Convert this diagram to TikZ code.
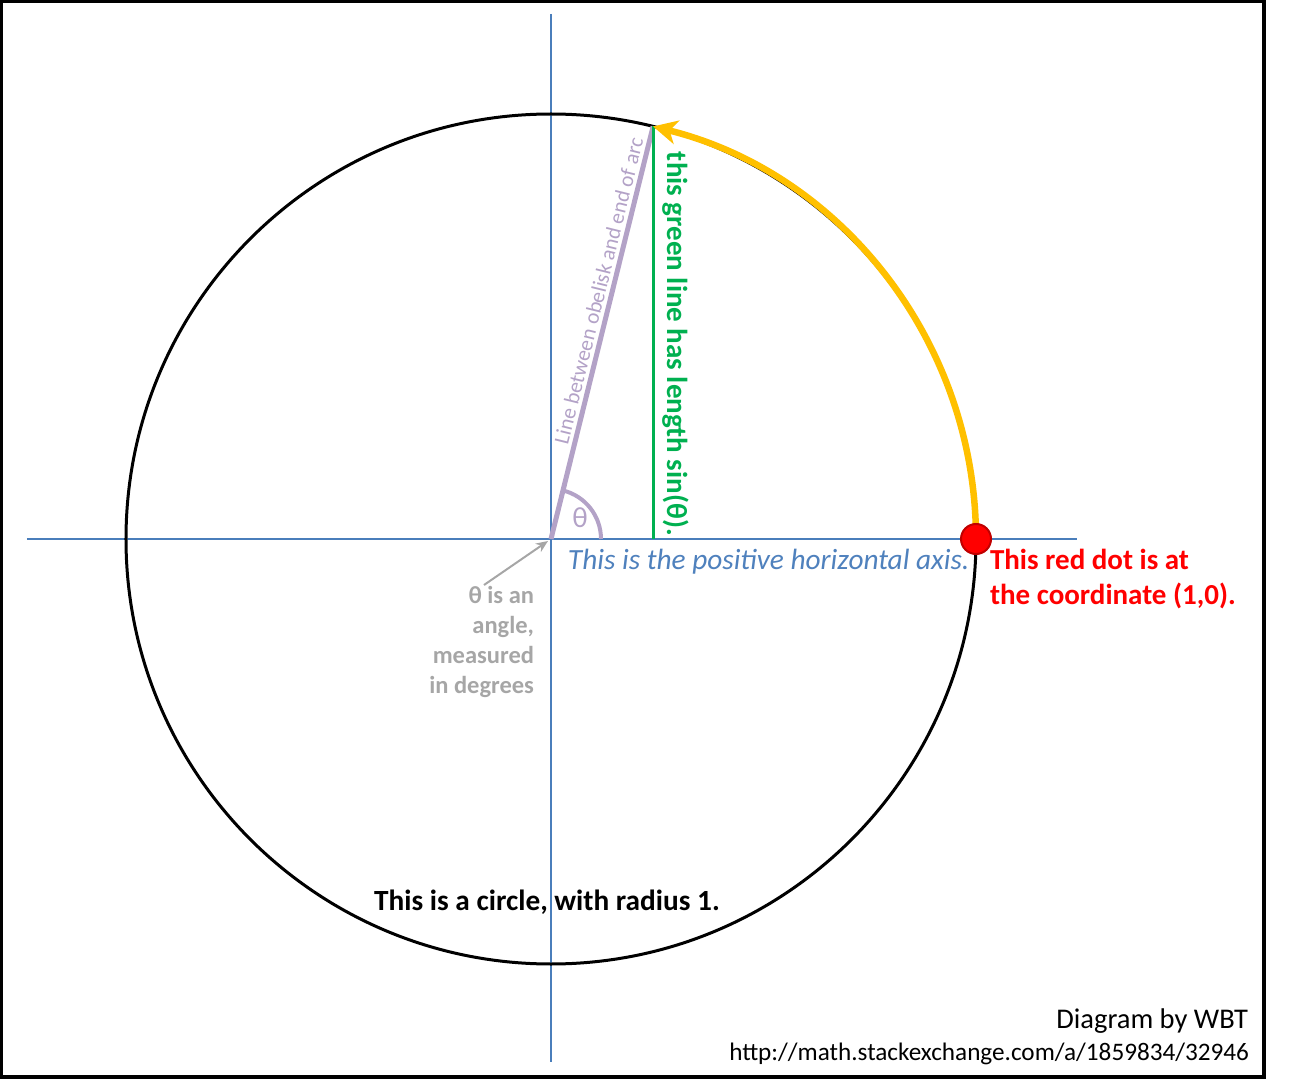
\documentclass[tikz,border=0pt]{standalone}
\usepackage{fontspec}
\setmainfont{Carlito}
\usetikzlibrary{arrows.meta,calc}
\definecolor{axisblue}{RGB}{74,126,187}
\definecolor{textblue}{RGB}{79,129,189}
\definecolor{lilac}{RGB}{179,162,199}
\definecolor{sgreen}{RGB}{0,176,80}
\definecolor{gold}{RGB}{255,192,0}
\definecolor{darkred}{RGB}{192,0,0}
\definecolor{softgray}{RGB}{166,166,166}
\tikzset{
  axisline/.style={axisblue, line width=1.8pt},
  lbl/.style={inner sep=0pt, outer sep=0pt},
}
\begin{document}
\begin{tikzpicture}[x=1pt,y=1pt]
\useasboundingbox (-551,-543) rectangle (761,539);
% frame
\draw[line width=3.5pt] (-549.5,-538) rectangle (713,537.5);
% axes
\coordinate (vtop) at (0,525);
\coordinate (vbot) at (0,-523);
\coordinate (hl) at (-524,0);
\coordinate (hr) at (526,0);
\draw[axisline] (vtop) -- (vbot);
\draw[axisline] (hl) -- (hr);
% circle
\coordinate (O) at (0,0);
\draw[line width=3pt] (O) circle[radius=425];
% key points
\coordinate (E) at (76.1:425);
\coordinate (F) at (E|-O);
\coordinate (P) at (0:425);
% purple line and angle arc
\draw[lilac, line width=5pt] (O) -- (E);
\draw[lilac, line width=4pt] (50,0) arc[start angle=0, end angle=76.1, radius=50];
\node[lbl, lilac, font=\fontsize{29}{32}\selectfont] (theta) at (29,21) {θ};
% purple text along line
\node[lbl, lilac, font=\fontsize{21.5}{26}\selectfont, rotate=76.1, anchor=base west] (obelisk) at (17,94) {Line between obelisk and end of arc};
% green line
\draw[sgreen, line width=3pt] (E) -- (F);
\node[lbl, sgreen, font=\bfseries\fontsize{29}{34}\selectfont, rotate=-90, anchor=base west] (sinlbl) at (116,387) {this green line has length sin(θ).};
% orange arc
\draw[gold, line width=6.5pt, -{Stealth[length=24pt,width=24pt,inset=7pt]}] (P) arc[start angle=0, end angle=76.1, radius=425];
% red dot
\node[circle, fill=red, draw=darkred, line width=2pt, minimum size=30pt, inner sep=0pt] (dot) at (P) {};
\node[lbl, red, font=\bfseries\fontsize{29}{35}\selectfont, align=left, anchor=base west] (redtxt) at (439,-65) {This red dot is at\\the coordinate (1,0).};
% blue text
\node[lbl, textblue, font=\itshape\fontsize{29.3}{34}\selectfont, anchor=base west] (axtxt) at (17,-30) {This is the positive horizontal axis.};
% gray text and arrow
\node[lbl, softgray, font=\bfseries\fontsize{24.5}{30}\selectfont, align=right, anchor=base east] (graytxt) at (-17,-154) {θ is an\\angle,\\measured\\in degrees};
\coordinate (gstart) at (-67,-46);
\coordinate (gend) at (-3,-2);
\draw[softgray, line width=2pt, -{Stealth[length=12pt,width=10pt]}] (gstart) -- (gend);
% circle caption
\node[lbl, font=\bfseries\fontsize{29.3}{34}\selectfont, anchor=base] (circtxt) at (-4,-371) {This is a circle, with radius 1.};
% credits
\node[lbl, font=\fontsize{28.5}{32}\selectfont, anchor=base east] (credit1) at (697,-489) {Diagram by WBT};
\node[lbl, font=\fontsize{25.2}{32}\selectfont, anchor=base east] (credit2) at (698,-521) {http://math.stackexchange.com/a/1859834/32946};
\end{tikzpicture}
\end{document}
